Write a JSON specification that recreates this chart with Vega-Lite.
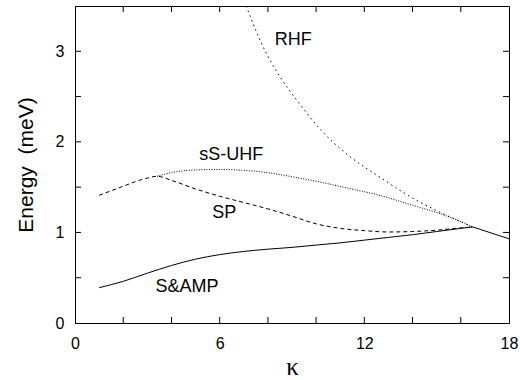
{
  "$schema": "https://vega.github.io/schema/vega-lite/v6.json",
  "width": 434,
  "height": 317,
  "autosize": {"type": "none"},
  "padding": {"left": 75, "top": 6, "right": 11, "bottom": 57},
  "background": "white",
  "config": {
    "view": {"stroke": "black", "strokeWidth": 1},
    "axis": {"grid": false}
  },
  "datasets": {
    "sp": [
      {"k": 1.0, "e": 1.41}, {"k": 1.5, "e": 1.46}, {"k": 2.0, "e": 1.51}, {"k": 2.5, "e": 1.56},
      {"k": 3.0, "e": 1.60}, {"k": 3.4, "e": 1.62}, {"k": 4.0, "e": 1.575}, {"k": 5.0, "e": 1.48},
      {"k": 6.0, "e": 1.40}, {"k": 7.0, "e": 1.33}, {"k": 8.0, "e": 1.26}, {"k": 9.0, "e": 1.18},
      {"k": 10.0, "e": 1.095}, {"k": 11.0, "e": 1.045}, {"k": 12.0, "e": 1.02}, {"k": 13.0, "e": 1.005},
      {"k": 14.0, "e": 1.01}, {"k": 15.0, "e": 1.025}, {"k": 16.0, "e": 1.05}, {"k": 16.5, "e": 1.06}
    ],
    "uhf": [
      {"k": 3.4, "e": 1.62}, {"k": 4.2, "e": 1.67}, {"k": 5.0, "e": 1.69}, {"k": 6.0, "e": 1.695},
      {"k": 7.0, "e": 1.685}, {"k": 8.0, "e": 1.66}, {"k": 9.0, "e": 1.615}, {"k": 10.0, "e": 1.565},
      {"k": 11.3, "e": 1.49}, {"k": 12.7, "e": 1.405}, {"k": 14.0, "e": 1.30}, {"k": 15.0, "e": 1.22},
      {"k": 16.0, "e": 1.12}, {"k": 16.5, "e": 1.06}
    ],
    "rhf": [
      {"k": 7.1, "e": 3.5}, {"k": 7.8, "e": 3.05}, {"k": 8.5, "e": 2.72}, {"k": 9.2, "e": 2.46},
      {"k": 10.2, "e": 2.13}, {"k": 11.3, "e": 1.86}, {"k": 12.7, "e": 1.60}, {"k": 14.0, "e": 1.38},
      {"k": 15.4, "e": 1.19}, {"k": 16.5, "e": 1.06}
    ],
    "samp": [
      {"seg": "a", "k": 1.0, "e": 0.39}, {"seg": "a", "k": 2.0, "e": 0.46}, {"seg": "a", "k": 3.0, "e": 0.55},
      {"seg": "a", "k": 4.0, "e": 0.635}, {"seg": "a", "k": 5.0, "e": 0.705}, {"seg": "a", "k": 6.0, "e": 0.755},
      {"seg": "a", "k": 7.0, "e": 0.79}, {"seg": "a", "k": 8.0, "e": 0.815}, {"seg": "a", "k": 9.0, "e": 0.835},
      {"seg": "a", "k": 10.0, "e": 0.86}, {"seg": "a", "k": 11.0, "e": 0.885}, {"seg": "a", "k": 12.0, "e": 0.915},
      {"seg": "a", "k": 13.0, "e": 0.945}, {"seg": "a", "k": 14.0, "e": 0.975}, {"seg": "a", "k": 15.0, "e": 1.01},
      {"seg": "a", "k": 16.0, "e": 1.045}, {"seg": "a", "k": 16.5, "e": 1.06},
      {"seg": "b", "k": 16.5, "e": 1.06}, {"seg": "b", "k": 18.0, "e": 0.93}
    ],
    "labels": [
      {"k": 9.05, "e": 3.13, "text": "RHF"},
      {"k": 6.48, "e": 1.856, "text": "sS-UHF"},
      {"k": 6.19, "e": 1.22, "text": "SP"},
      {"k": 4.65, "e": 0.40, "text": "S&AMP"}
    ],
    "xticks": [
      {"k": 2}, {"k": 4}, {"k": 6}, {"k": 8}, {"k": 10}, {"k": 12}, {"k": 14}, {"k": 16}
    ],
    "yticks": [
      {"e": 0.5}, {"e": 1}, {"e": 1.5}, {"e": 2}, {"e": 2.5}, {"e": 3}
    ]
  },
  "layer": [
    {
      "data": {"name": "samp"},
      "mark": {"type": "line", "interpolate": "monotone", "color": "black", "strokeWidth": 1},
      "encoding": {
        "x": {
          "field": "k", "type": "quantitative",
          "scale": {"domain": [0, 18], "nice": false, "zero": false},
          "axis": {
            "orient": "bottom",
            "values": [0, 6, 12, 18],
            "format": "d",
            "labelFlush": false,
            "ticks": false,
            "domainColor": "#000000",
            "labelColor": "#000000",
            "labelFont": "Liberation Sans",
            "labelFontSize": 16,
            "labelPadding": 12,
            "title": "κ",
            "titleColor": "#000000",
            "titleFont": "Liberation Serif",
            "titleFontSize": 25,
            "titleFontWeight": "normal",
            "titlePadding": 3
          }
        },
        "y": {
          "field": "e", "type": "quantitative",
          "scale": {"domain": [0, 3.5], "nice": false},
          "axis": {
            "orient": "left",
            "values": [0, 1, 2, 3],
            "format": "d",
            "labelFlush": false,
            "ticks": false,
            "domainColor": "#000000",
            "labelColor": "#000000",
            "labelFont": "Liberation Sans",
            "labelFontSize": 16,
            "labelPadding": 11,
            "title": "Energy\u00a0\u00a0(meV)",
            "titleColor": "#000000",
            "titleFont": "Liberation Sans",
            "titleFontSize": 21,
            "titleFontWeight": "normal",
            "titlePadding": 19
          }
        },
        "detail": {"field": "seg"}
      }
    },
    {
      "data": {"name": "sp"},
      "mark": {"type": "line", "interpolate": "monotone", "color": "black", "strokeWidth": 1, "strokeDash": [4, 3]},
      "encoding": {
        "x": {"field": "k", "type": "quantitative", "axis": null},
        "y": {"field": "e", "type": "quantitative", "axis": null}
      }
    },
    {
      "data": {"name": "uhf"},
      "mark": {"type": "line", "interpolate": "monotone", "color": "black", "strokeWidth": 1, "strokeDash": [1, 1.5]},
      "encoding": {
        "x": {"field": "k", "type": "quantitative", "axis": null},
        "y": {"field": "e", "type": "quantitative", "axis": null}
      }
    },
    {
      "data": {"name": "rhf"},
      "mark": {"type": "line", "interpolate": "monotone", "color": "black", "strokeWidth": 1, "strokeDash": [1.5, 3.5]},
      "encoding": {
        "x": {"field": "k", "type": "quantitative", "axis": null},
        "y": {"field": "e", "type": "quantitative", "axis": null}
      }
    },
    {
      "data": {"name": "xticks"},
      "mark": {"type": "tick", "orient": "vertical", "size": 12, "thickness": 1, "color": "black", "opacity": 1, "clip": true},
      "encoding": {
        "x": {"field": "k", "type": "quantitative", "axis": null},
        "y": {"datum": 0, "type": "quantitative", "axis": null}
      }
    },
    {
      "data": {"name": "xticks"},
      "mark": {"type": "tick", "orient": "vertical", "size": 12, "thickness": 1, "color": "black", "opacity": 1, "clip": true},
      "encoding": {
        "x": {"field": "k", "type": "quantitative", "axis": null},
        "y": {"datum": 3.5, "type": "quantitative", "axis": null}
      }
    },
    {
      "data": {"name": "yticks"},
      "mark": {"type": "tick", "orient": "horizontal", "size": 12, "thickness": 1, "color": "black", "opacity": 1, "clip": true},
      "encoding": {
        "y": {"field": "e", "type": "quantitative", "axis": null},
        "x": {"datum": 0, "type": "quantitative", "axis": null}
      }
    },
    {
      "data": {"name": "yticks"},
      "mark": {"type": "tick", "orient": "horizontal", "size": 12, "thickness": 1, "color": "black", "opacity": 1, "clip": true},
      "encoding": {
        "y": {"field": "e", "type": "quantitative", "axis": null},
        "x": {"datum": 18, "type": "quantitative", "axis": null}
      }
    },
    {
      "data": {"name": "labels"},
      "mark": {"type": "text", "font": "Liberation Sans", "fontSize": 18, "color": "black", "align": "center", "baseline": "middle"},
      "encoding": {
        "x": {"field": "k", "type": "quantitative", "axis": null},
        "y": {"field": "e", "type": "quantitative", "axis": null},
        "text": {"field": "text"}
      }
    }
  ],
  "resolve": {"axis": {"x": "independent", "y": "independent"}}
}
